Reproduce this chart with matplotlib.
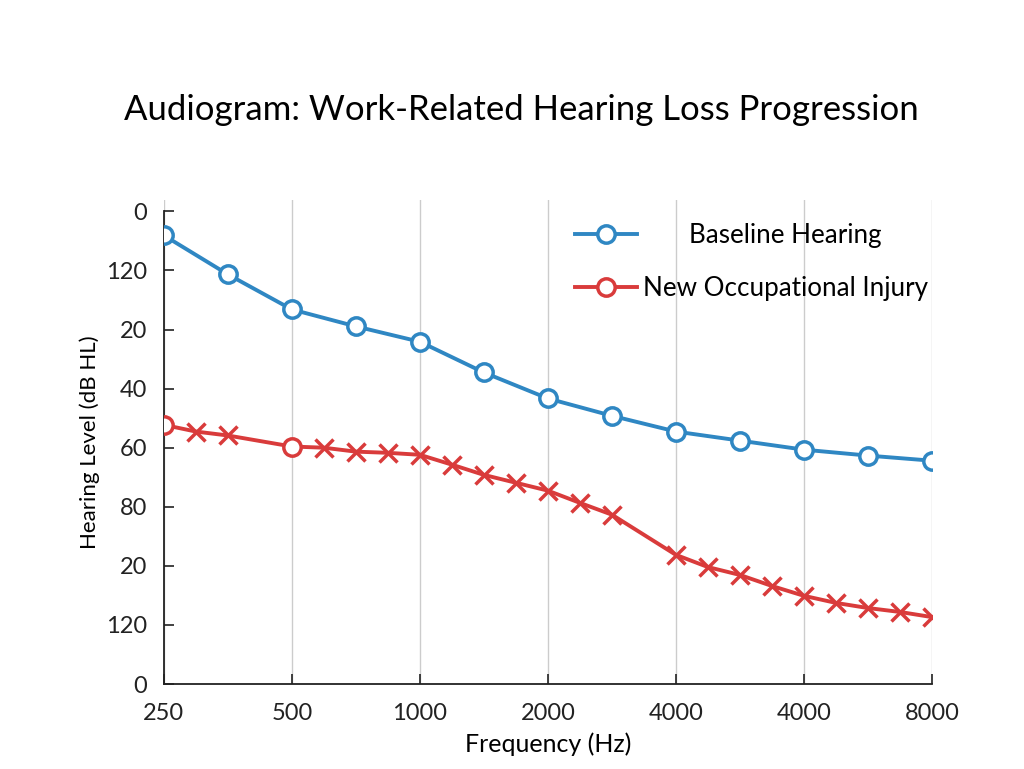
import matplotlib
matplotlib.use("Agg")
import matplotlib.pyplot as plt

plt.rcParams['font.family'] = ['Lato', 'DejaVu Sans']

freq_labels = ["250", "500", "1000", "2000", "4000", "4000", "8000"]
level_labels = ["0", "120", "20", "40", "60", "80", "20", "120", "0"]

# positions are in octave steps along the x axis
base_x = [0, 0.5, 1, 1.5, 2, 2.5, 3, 3.5, 4, 4.5, 5, 5.5, 6]
base_y = [6.1, 16.0, 24.9, 29.2, 33.1, 40.9, 47.5, 51.9, 55.9, 58.2, 60.5, 62.0, 63.3]

injury_x = [0, 0.25, 0.5, 1, 1.25, 1.5, 1.75, 2, 2.25, 2.5, 2.75, 3, 3.25, 3.5,
            4, 4.25, 4.5, 4.75, 5, 5.25, 5.5, 5.75, 6]
injury_y = [54.2, 55.9, 56.9, 59.7, 60.0, 61.0, 61.3, 61.8, 64.3, 66.9, 68.9, 70.9,
            74.0, 77.0, 87.2, 90.3, 92.3, 95.1, 97.6, 99.4, 100.7, 101.7, 103.0]
injury_circles = [0, 3]

blue = "#2f87c3"
red = "#d93b3b"

fig = plt.figure(figsize=(10.24, 7.69), dpi=100)
ax = fig.add_axes([0.160, 0.1105, 0.750, 0.630])

ax.plot(base_x, base_y, color=blue, lw=2.8, marker="o", ms=12.5,
        mfc="white", mec=blue, mew=2.5, label="Baseline Hearing", zorder=3)

ax.plot(injury_x, injury_y, color=red, lw=2.8, zorder=3)
cx = [injury_x[i] for i in injury_circles]
cy = [injury_y[i] for i in injury_circles]
xx = [x for i, x in enumerate(injury_x) if i not in injury_circles]
xy = [y for i, y in enumerate(injury_y) if i not in injury_circles]
ax.plot(xx, xy, ls="none", marker="x", ms=12.5, mec=red, mew=2.5, zorder=4)
ax.plot(cx, cy, ls="none", marker="o", ms=12.5, mfc="white", mec=red, mew=2.5, zorder=4)
# legend proxy
ax.plot([], [], color=red, lw=2.8, marker="o", ms=12.5, mfc="white", mec=red,
        mew=2.5, label="New Occupational Injury")

ax.set_xlim(0, 6)
ax.set_ylim(120, -3)
ax.set_xticks(range(len(freq_labels)))
ax.set_xticklabels(freq_labels)
ax.set_yticks([i * 15 for i in range(len(level_labels))])
ax.set_yticklabels(level_labels)
ax.tick_params(direction="in", labelsize=17, length=7, width=1.2, colors="#222222")
ax.tick_params(axis="x", pad=14)
ax.tick_params(axis="y", pad=12)

ax.spines["top"].set_visible(False)
ax.spines["right"].set_visible(False)
ax.spines["left"].set_bounds(0, 120)
for s in ["left", "bottom"]:
    ax.spines[s].set_linewidth(1.3)
    ax.spines[s].set_color("#222222")

ax.grid(axis="x", color="#cccccc", lw=1.0)
ax.set_axisbelow(True)

ax.set_xlabel("Frequency (Hz)", fontsize=18, labelpad=6)
ax.set_ylabel("Hearing Level (dB HL)", fontsize=16, labelpad=4)
fig.suptitle("Audiogram: Work-Related Hearing Loss Progression", fontsize=25,
             x=0.509, y=0.878)

leg = ax.legend(loc="upper right", bbox_to_anchor=(1.025, 1.0), frameon=False,
                fontsize=18.7, handlelength=2.4, labelspacing=1.1, handletextpad=0.2)

# the first label sits centred over the second one, as in the source chart
fig.canvas.draw()
texts = leg.get_texts()
bb = texts[1].get_window_extent()
bb0 = texts[0].get_window_extent()
texts[0].set_visible(False)
inv = fig.transFigure.inverted()
cxf, _ = inv.transform(((bb.x0 + bb.x1) / 2, 0))
_, cyf = inv.transform((0, (bb0.y0 + bb0.y1) / 2))
fig.text(cxf, cyf, "Baseline Hearing", ha="center", va="center", fontsize=18.7)

fig.savefig("out.png", dpi=100)
